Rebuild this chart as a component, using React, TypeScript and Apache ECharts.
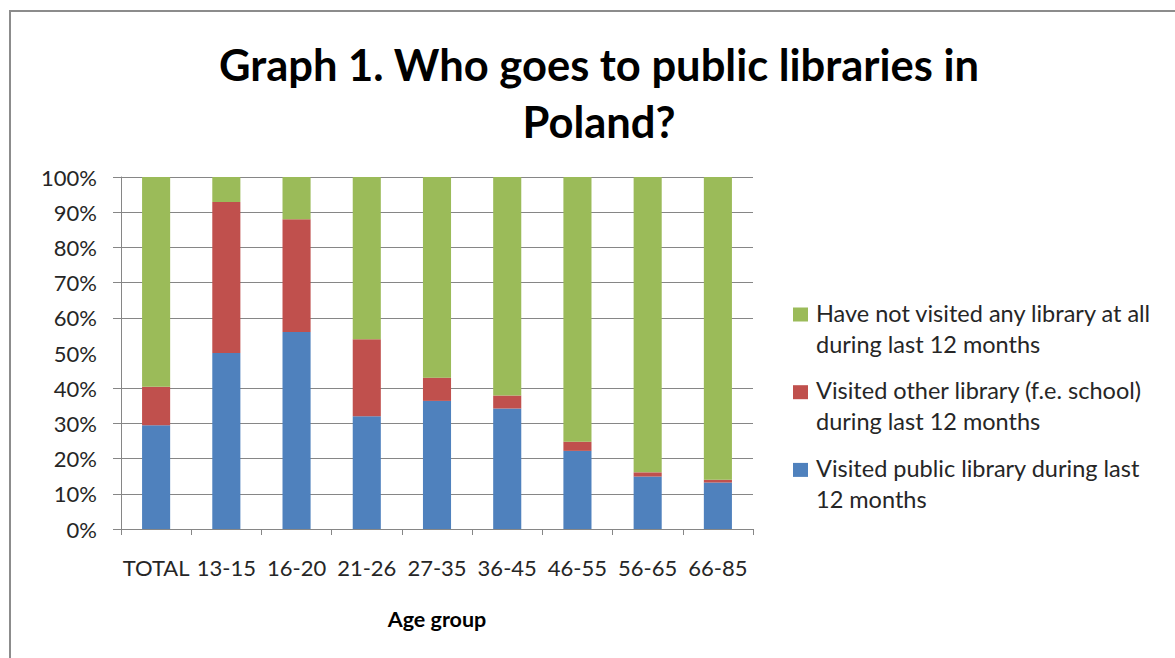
import React, { useEffect, useRef } from "react";
import * as echarts from "echarts";

const categories = ["TOTAL", "13-15", "16-20", "21-26", "27-35", "36-45", "46-55", "56-65", "66-85"];
const publicLibrary = [29.5, 50.0, 56.0, 32.0, 36.4, 34.2, 22.2, 14.9, 13.2];
const otherLibrary = [10.9, 42.9, 32.0, 21.9, 6.6, 3.7, 2.6, 1.2, 0.8];
const noLibrary = [59.6, 7.1, 12.0, 46.1, 57.0, 62.1, 75.2, 83.9, 86.0];
// the reference shows no grid line and no tick at 50%
const yTickValues = [0, 10, 20, 30, 40, 60, 70, 80, 90, 100];

const titleText = "Graph 1. Who goes to public libraries in\nPoland?";
const xAxisName = "Age group";
const seriesNames = [
  "Visited public library during last 12 months",
  "Visited other library (f.e. school) during last 12 months",
  "Have not visited any library at all during last 12 months",
];
const seriesColors = ["#4F81BD", "#C0504D", "#9BBB59"];
// legend shown top to bottom (reverse of stacking order), with its line breaks
const legendOrder = [2, 1, 0];
const legendLines = [
  ["Visited public library during last", "12 months"],
  ["Visited other library (f.e. school)", "during last 12 months"],
  ["Have not visited any library at all", "during last 12 months"],
];

const FONT = "Lato, 'Noto Sans', sans-serif";
const GRID_COLOR = "#868686";
const TEXT_COLOR = "#262626";

export default function App() {
  const ref = useRef<HTMLDivElement>(null);

  useEffect(() => {
    if (!ref.current) return;
    const chart = echarts.init(ref.current, null, { renderer: "svg" });
    const values = [publicLibrary, otherLibrary, noLibrary];

    const legendChildren: any[] = [];
    legendOrder.forEach((si, i) => {
      const y = i * 77.7;
      legendChildren.push({
        type: "rect",
        shape: { x: 0, y: y + 9.5, width: 15, height: 14 },
        style: { fill: seriesColors[si] },
      });
      legendChildren.push({
        type: "text",
        x: 23,
        y: y - 1,
        style: {
          text: legendLines[si].join("\n"),
          font: `23.5px ${FONT}`,
          lineHeight: 31,
          fill: TEXT_COLOR,
          verticalAlign: "top",
        },
      });
    });

    const barSeries = values.map((v, i) => ({
      name: seriesNames[i],
      type: "bar",
      stack: "total",
      data: v,
      barCategoryGap: "60%",
      itemStyle: { color: seriesColors[i] },
      z: 3,
    }));

    // horizontal grid lines, drawn beneath the bars
    const gridSeries = {
      name: "grid",
      type: "line",
      data: [],
      z: 1,
      silent: true,
      markLine: {
        z: 1,
        silent: true,
        symbol: "none",
        label: { show: false },
        emphasis: { disabled: true },
        lineStyle: { color: GRID_COLOR, type: "solid", width: 1 },
        data: yTickValues.filter((v) => v > 0).map((v) => ({ yAxis: v })),
      },
    };

    chart.setOption({
      animation: false,
      backgroundColor: "#ffffff",
      title: {
        text: titleText,
        left: 594,
        top: 30,
        textAlign: "center",
        textStyle: {
          fontFamily: FONT,
          fontWeight: "bold",
          fontSize: 43.5,
          lineHeight: 57,
          color: "#000000",
        },
      },
      grid: { left: 121, right: 422, top: 177, bottom: 129, containLabel: false, outerBoundsMode: "none" },
      xAxis: {
        type: "category",
        data: categories,
        name: xAxisName,
        nameLocation: "middle",
        nameGap: 79,
        nameTextStyle: { fontFamily: FONT, fontWeight: "bold", fontSize: 21.5, color: "#000000" },
        axisLine: { show: true, lineStyle: { color: GRID_COLOR, width: 1 } },
        axisTick: { show: true, length: 6, lineStyle: { color: GRID_COLOR } },
        axisLabel: { interval: 0, margin: 27, fontFamily: FONT, fontSize: 22, color: TEXT_COLOR },
        splitLine: { show: false },
      },
      yAxis: {
        type: "value",
        min: 0,
        max: 100,
        interval: 10,
        axisLine: { show: true, lineStyle: { color: GRID_COLOR, width: 1 } },
        axisTick: { show: true, length: 8, lineStyle: { color: GRID_COLOR }, customValues: yTickValues },
        axisLabel: { formatter: "{value}%", margin: 24, fontFamily: FONT, fontSize: 22, color: TEXT_COLOR },
        splitLine: { show: false },
      },
      series: [gridSeries, ...barSeries],
      graphic: [
        {
          type: "rect",
          shape: { x: 10, y: 11, width: 1300, height: 800 },
          style: { fill: "none", stroke: "#8c8c8c", lineWidth: 2 },
          silent: true,
          z: 100,
        },
        {
          type: "group",
          x: 793,
          y: 298,
          children: legendChildren,
        },
      ],
    });
    return () => chart.dispose();
  }, []);

  return (
    <div
      ref={ref}
      style={{ position: "fixed", left: 0, top: 0, width: 1175, height: 658, background: "#fff" }}
    />
  );
}
